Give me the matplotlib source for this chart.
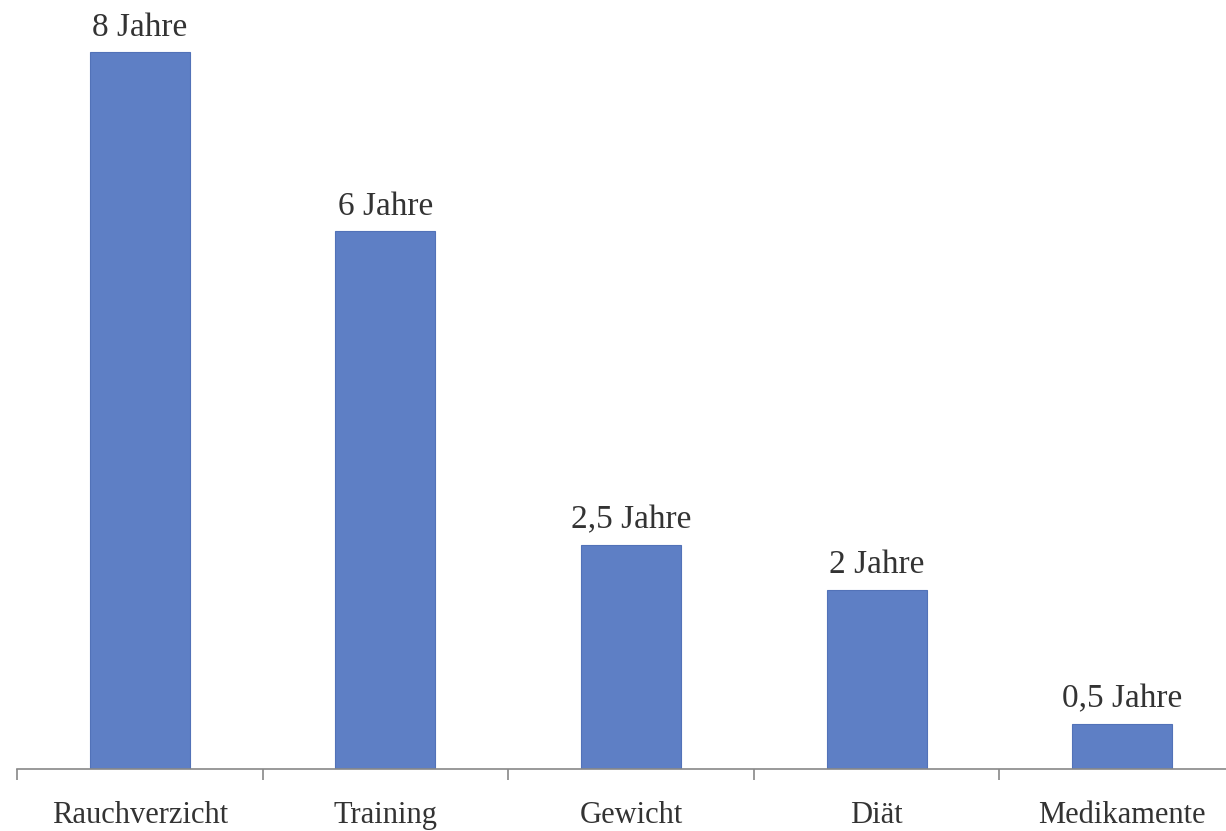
import matplotlib
matplotlib.use("Agg")
import matplotlib.pyplot as plt
import numpy as np

categories = ["Rauchverzicht", "Training", "Gewicht", "Diät", "Medikamente"]
values = [8, 6, 2.5, 2, 0.5]
labels = ["8 Jahre", "6 Jahre", "2,5 Jahre", "2 Jahre", "0,5 Jahre"]

plt.rcParams['font.family'] = ['Liberation Serif', 'DejaVu Serif']

W, H = 1226, 831
fig = plt.figure(figsize=(W / 100, H / 100), dpi=100)
# axes spans from x=17px to 1245px (beyond right edge), bottom at y=769px
ax = fig.add_axes([17 / W, (H - 769) / H, 1228 / W, 769 / H])

x = np.arange(len(categories))
ax.bar(x, values, width=0.407, color="#5E7FC5", edgecolor="#5272B8", linewidth=0.8, zorder=2)
ax.set_xlim(-0.5, len(categories) - 0.5)
ax.set_ylim(0, 769 / 89.6)

for xi, v, lab in zip(x, values, labels):
    ax.annotate(lab, (xi, v), xytext=(0, 12), textcoords="offset points",
                ha="center", va="baseline", fontsize=24, color="#333333")

ax.set_xticks(x)
ax.set_xticklabels(categories, fontsize=22, color="#333333")
ax.set_xticks(np.arange(-0.5, len(categories), 1), minor=True)
ax.tick_params(axis="x", which="major", length=0, pad=23)
ax.tick_params(axis="x", which="minor", length=8, width=1.2, color="#888888")
ax.set_yticks([])
for s in ["top", "right", "left"]:
    ax.spines[s].set_visible(False)
ax.spines["bottom"].set_color("#888888")
ax.spines["bottom"].set_linewidth(1.2)

fig.savefig("out.png", dpi=100)
